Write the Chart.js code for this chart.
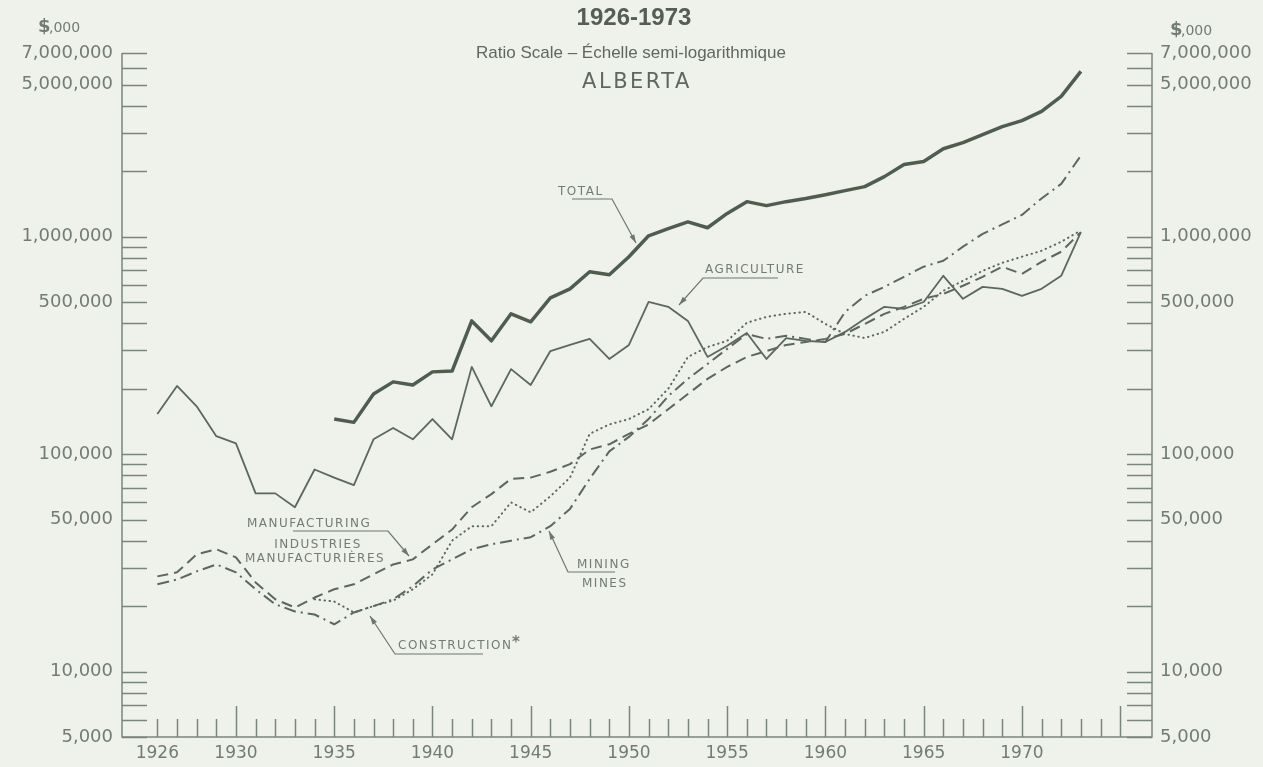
<!DOCTYPE html>
<html>
<head>
<meta charset="utf-8">
<script src="https://cdn.jsdelivr.net/npm/chart.js@4/dist/chart.umd.min.js"></script>
<style>
  html, body { margin: 0; padding: 0; background: #eff1eb; }
  #wrap { width: 1263px; height: 767px; }
</style>
</head>
<body>
<div id="wrap"><canvas id="albertaChart" width="1263" height="767"></canvas></div>
<script>
// values in $,000
const years = [1926, 1927, 1928, 1929, 1930, 1931, 1932, 1933, 1934, 1935, 1936, 1937,
    1938, 1939, 1940, 1941, 1942, 1943, 1944, 1945, 1946, 1947, 1948, 1949,
    1950, 1951, 1952, 1953, 1954, 1955, 1956, 1957, 1958, 1959, 1960, 1961,
    1962, 1963, 1964, 1965, 1966, 1967, 1968, 1969, 1970, 1971, 1972, 1973];

const total = [null, null, null, null, null, null, null, null, null,
    145000, 140000, 189000, 215000, 208000, 239000, 241000, 410000, 332000, 442000,
    406000, 523000, 576000, 690000, 668000, 809000, 1010000, 1090000, 1170000, 1100000,
    1280000, 1450000, 1390000, 1450000, 1500000, 1560000, 1630000, 1700000, 1890000, 2150000,
    2220000, 2540000, 2710000, 2950000, 3210000, 3420000, 3770000, 4420000, 5760000];

const agriculture = [153000, 206000, 166000, 121000, 112000, 66000, 66000, 57000, 85000, 78000,
    72000, 117000, 132000, 117000, 145000, 117000, 252000, 166000, 246000, 208000,
    298000, 318000, 339000, 274000, 318000, 501000, 476000, 410000, 280000, 315000,
    361000, 274000, 342000, 332000, 328000, 365000, 419000, 476000, 466000, 501000,
    661000, 518000, 588000, 576000, 535000, 576000, 661000, 1050000];

const manufacturing = [27400, 28600, 34600, 36500, 33500, 25700, 21500, 19700, 21900, 23900,
    25200, 28000, 31100, 32800, 38500, 45000, 57000, 65500, 77000, 78000,
    83000, 90000, 105000, 111000, 124000, 137000, 161000, 189000, 222000, 252000,
    280000, 298000, 318000, 328000, 339000, 357000, 397000, 442000, 476000, 518000,
    546000, 595000, 654000, 728000, 675000, 767000, 853000, 1050000];

const mining = [25200, 26500, 28900, 31100, 28600, 23900, 20400, 18900, 18300, 16500,
    18700, 20000, 21500, 24700, 29500, 32800, 36500, 38500, 40000, 41500,
    46600, 56000, 77000, 103000, 120000, 145000, 185000, 222000, 260000, 305000,
    357000, 339000, 350000, 339000, 328000, 451000, 535000, 588000, 654000, 728000,
    775000, 900000, 1030000, 1140000, 1260000, 1500000, 1750000, 2360000];

const construction = [null, null, null, null, null, null, null, null, 21500, 21000,
    18700, 20000, 21200, 23900, 28000, 40000, 46600, 46600, 60000, 54000,
    64000, 78000, 124000, 137000, 145000, 161000, 200000, 280000, 311000, 332000,
    402000, 428000, 442000, 451000, 397000, 357000, 342000, 365000, 419000, 476000,
    564000, 627000, 697000, 759000, 809000, 862000, 948000, 1070000];

const yearLabels = [1926, 1930, 1935, 1940, 1945, 1950, 1955, 1960, 1965, 1970];
const valueLabels = [5000, 10000, 50000, 100000, 500000, 1000000, 5000000, 7000000];

const ink = '#5a695a';
const textCol = '#727d72';

function pts(arr) {
    return years.map((yr, i) => ({ x: yr, y: arr[i] }));
}

// axis lines, tick marks, titles and labels
const decorations = {
    id: 'decorations',
    afterDraw(chart) {
        const ctx = chart.ctx;
        const area = chart.chartArea;
        const xs = chart.scales.x;
        const ys = chart.scales.y;
        ctx.save();
        ctx.strokeStyle = '#7b867b';
        ctx.lineWidth = 1.5;
        ctx.beginPath();
        ctx.moveTo(area.left, area.top);
        ctx.lineTo(area.left, area.bottom);
        ctx.lineTo(area.right, area.bottom);
        ctx.lineTo(area.right, area.top);
        ctx.stroke();

        // log ticks on both vertical axes
        const marks = [];
        for (let d = 1000; d <= 1000000; d *= 10) {
            for (let m = 1; m <= 9; m++) {
                const v = m * d;
                if (v >= 5000 && v <= 7000000) marks.push(v);
            }
        }
        ctx.beginPath();
        marks.forEach(v => {
            const py = Math.round(ys.getPixelForValue(v)) + 0.5;
            ctx.moveTo(area.left, py);
            ctx.lineTo(area.left + 25, py);
            ctx.moveTo(area.right, py);
            ctx.lineTo(area.right - 25, py);
        });
        // year ticks
        for (let yr = 1926; yr <= 1975; yr++) {
            const px = Math.round(xs.getPixelForValue(yr)) + 0.5;
            const len = yr % 5 === 0 ? 31 : 18;
            ctx.moveTo(px, area.bottom);
            ctx.lineTo(px, area.bottom - len);
        }
        ctx.stroke();

        // titles
        ctx.fillStyle = '#555e55';
        ctx.textAlign = 'center';
        ctx.font = 'bold 24px "Liberation Sans", Arial, sans-serif';
        ctx.fillText('1926-1973', 634, 25);
        ctx.font = '17px "Liberation Sans", Arial, sans-serif';
        ctx.fillStyle = '#5f685f';
        ctx.fillText('Ratio Scale – Échelle semi-logarithmique', 631, 58);
        ctx.font = '21px "DejaVu Sans", sans-serif';
        ctx.letterSpacing = '2.5px';
        ctx.fillText('ALBERTA', 637, 88);
        ctx.letterSpacing = '0px';

        // unit marks
        ctx.textAlign = 'left';
        ctx.fillStyle = textCol;
        ctx.font = 'bold 18px "DejaVu Sans", sans-serif';
        ctx.fillText('$', 38, 32);
        ctx.fillText('$', 1170, 35);
        ctx.font = '14px "DejaVu Sans", sans-serif';
        ctx.fillText(',000', 49, 32);
        ctx.fillText(',000', 1181, 35);

        // series labels
        ctx.font = '12px "DejaVu Sans", sans-serif';
        ctx.letterSpacing = '1.5px';
        ctx.fillText('TOTAL', 558, 195);
        ctx.fillText('AGRICULTURE', 705, 273);
        ctx.fillText('MANUFACTURING', 247, 527);
        ctx.textAlign = 'center';
        ctx.fillText('INDUSTRIES', 318, 548);
        ctx.textAlign = 'left';
        ctx.fillText('MANUFACTURIÈRES', 245, 562);
        ctx.fillText('MINING', 577, 568);
        ctx.fillText('MINES', 582, 587);
        ctx.fillText('CONSTRUCTION', 398, 649);
        ctx.letterSpacing = '0px';
        ctx.font = 'bold 15px "DejaVu Sans", sans-serif';
        ctx.fillText('*', 512, 647);

        ctx.strokeStyle = '#6d786d';
        ctx.lineWidth = 1.2;
        leader(ctx, [[572, 199], [612, 199], [636, 243]]);
        leader(ctx, [[778, 278], [703, 278], [679, 305]]);
        leader(ctx, [[293, 531], [388, 531], [409, 556]]);
        leader(ctx, [[615, 572], [568, 572], [549, 531]]);
        leader(ctx, [[483, 654], [395, 654], [370, 616]]);
        ctx.restore();
    }
};

function leader(ctx, path) {
    ctx.beginPath();
    ctx.moveTo(path[0][0], path[0][1]);
    for (let i = 1; i < path.length; i++) ctx.lineTo(path[i][0], path[i][1]);
    ctx.stroke();
    const [x1, y1] = path[path.length - 2];
    const [x2, y2] = path[path.length - 1];
    const a = Math.atan2(y2 - y1, x2 - x1);
    ctx.beginPath();
    ctx.moveTo(x2, y2);
    ctx.lineTo(x2 - 9 * Math.cos(a - 0.3), y2 - 9 * Math.sin(a - 0.3));
    ctx.lineTo(x2 - 9 * Math.cos(a + 0.3), y2 - 9 * Math.sin(a + 0.3));
    ctx.closePath();
    ctx.fillStyle = '#6d786d';
    ctx.fill();
}

const valueAxis = (pos, width, pad) => ({
    type: 'logarithmic',
    position: pos,
    min: 5000,
    max: 7000000,
    grid: { display: false, drawTicks: false },
    border: { display: false },
    afterBuildTicks: s => { s.ticks = valueLabels.map(v => ({ value: v })); },
    afterFit: s => { s.width = width; },
    ticks: {
        padding: pad,
        color: textCol,
        font: { family: '"DejaVu Sans", sans-serif', size: 18 },
        callback: v => v.toLocaleString('en-US')
    }
});

new Chart(document.getElementById('albertaChart'), {
    type: 'line',
    data: {
        datasets: [
            { label: 'Total', data: pts(total), borderColor: '#4e5d4e', borderWidth: 3.5 },
            { label: 'Agriculture', data: pts(agriculture), borderColor: ink, borderWidth: 1.8 },
            { label: 'Manufacturing', data: pts(manufacturing), borderColor: ink, borderWidth: 2, borderDash: [11, 6] },
            { label: 'Mining', data: pts(mining), borderColor: ink, borderWidth: 2, borderDash: [12, 5, 2, 5] },
            { label: 'Construction', data: pts(construction), borderColor: ink, borderWidth: 2,
              borderDash: [0.5, 4.5], borderCapStyle: 'round' }
        ]
    },
    options: {
        responsive: false,
        animation: false,
        elements: { point: { radius: 0 }, line: { tension: 0, borderJoinStyle: 'round' } },
        layout: { padding: { top: 53, left: 0, right: 0, bottom: 0 } },
        plugins: { legend: { display: false }, tooltip: { enabled: false } },
        scales: {
            x: {
                type: 'linear',
                min: 1924.2,
                max: 1976.62,
                grid: { display: false, drawTicks: false },
                border: { display: false },
                afterBuildTicks: s => { s.ticks = yearLabels.map(v => ({ value: v })); },
                afterFit: s => { s.height = 30; },
                ticks: {
                    padding: 6,
                    autoSkip: false,
                    maxRotation: 0,
                    color: textCol,
                    font: { family: '"DejaVu Sans", sans-serif', size: 17 },
                    callback: v => String(v)
                }
            },
            y: valueAxis('left', 122, 9),
            y2: valueAxis('right', 111, 8)
        }
    },
    plugins: [decorations]
});
</script>
</body>
</html>
